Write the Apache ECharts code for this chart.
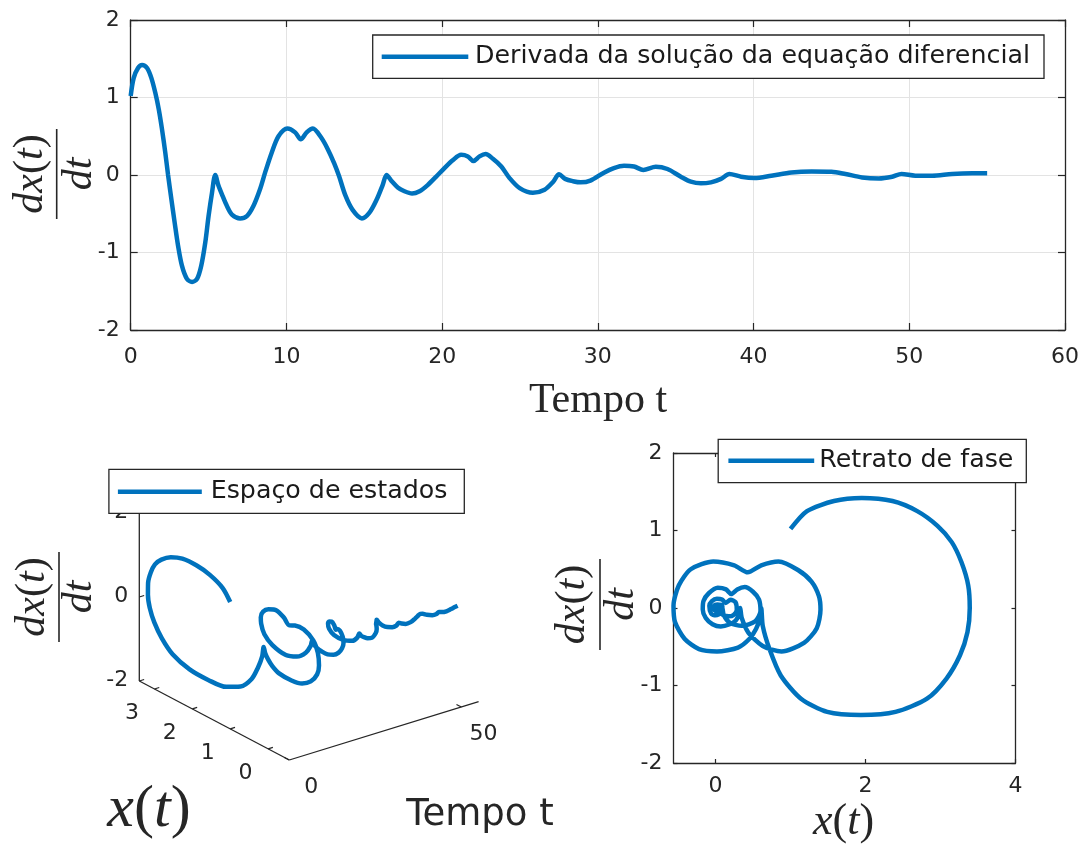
<!DOCTYPE html>
<html><head><meta charset="utf-8">
<script src="https://cdn.jsdelivr.net/npm/echarts@6/dist/echarts.min.js"></script>
<style>html,body{margin:0;padding:0;background:#fff}#c{width:1088px;height:852px}</style>
</head><body><div id="c"></div>
<script>
// ---------- data ----------
const T = [0, 0.19, 0.47, 0.73, 1.05, 1.33, 1.58, 1.8, 2.01, 2.22, 2.4, 2.61, 2.82, 3.04, 3.29, 3.61, 3.94, 4.26, 4.53, 4.79, 5.0, 5.22, 5.43,
  5.64, 5.9, 6.18, 6.5, 7.03, 7.46, 7.88, 8.31, 8.63, 9.06, 9.49, 10.06, 10.56, 10.92, 11.3, 11.7, 12.21, 12.64, 13.07, 13.39, 13.78, 14.25, 14.85, 15.32, 15.79, 16.18, 16.43,
  16.72, 17.15, 17.58, 18.07, 18.55, 19.07, 19.62, 20.15, 20.68, 21.22, 21.65, 22.01, 22.4, 22.79, 23.26, 23.8, 24.33, 24.98, 25.83, 26.58, 27.12, 27.51,
  27.9, 28.4, 28.9, 29.52, 30.39, 31.03, 31.68, 32.32, 32.92, 33.72, 34.47, 35.33, 35.97, 36.62, 37.26, 37.91, 38.45,
  39.2, 40.06, 41.14, 42.43, 43.72, 45.0, 45.9, 46.97, 48.04, 48.9, 49.5, 50.39, 51.46, 52.75, 54.04, 55.0];
const DX = [1.02, 1.25, 1.38, 1.42, 1.38, 1.25, 1.06, 0.85, 0.59, 0.29, 0.0, -0.31, -0.61, -0.91, -1.17, -1.34, -1.38, -1.34, -1.17, -0.87, -0.53, -0.23, 0.0,
  -0.14, -0.27, -0.40, -0.51, -0.56, -0.53, -0.40, -0.18, 0.03, 0.29, 0.50, 0.60, 0.55, 0.46, 0.55, 0.60, 0.49, 0.34, 0.15, -0.02, -0.26, -0.45, -0.56, -0.49, -0.32, -0.13, 0.0,
  -0.07, -0.16, -0.21, -0.24, -0.21, -0.13, -0.02, 0.09, 0.19, 0.26, 0.24, 0.18, 0.24, 0.27, 0.21, 0.11, -0.04, -0.17, -0.23, -0.19, -0.09, 0.01,
  -0.05, -0.08, -0.095, -0.073, 0.03, 0.09, 0.12, 0.11, 0.065, 0.107, 0.077, -0.022, -0.086, -0.108, -0.095, -0.05, 0.013,
  -0.022, -0.039, -0.009, 0.033, 0.046, 0.042, 0.013, -0.031, -0.044, -0.022, 0.013, -0.009, -0.009, 0.013, 0.021, 0.021];
const X = [1.00, 1.22, 1.58, 1.95, 2.36, 2.69, 2.96, 3.15, 3.28, 3.37, 3.39, 3.36, 3.26, 3.08, 2.82, 2.40, 1.94, 1.49, 1.14, 0.87, 0.72, 0.63, 0.61,
  0.59, 0.54, 0.45, 0.30, 0.02, -0.22, -0.41, -0.54, -0.56, -0.49, -0.33, -0.03, 0.25, 0.43, 0.61, 0.84, 1.10, 1.28, 1.38, 1.40, 1.35, 1.18, 0.88, 0.63, 0.44, 0.35, 0.33,
  0.32, 0.27, 0.19, 0.07, -0.04, -0.13, -0.17, -0.16, -0.09, 0.03, 0.14, 0.21, 0.29, 0.39, 0.50, 0.58, 0.60, 0.53, 0.35, 0.19, 0.11, 0.09,
  0.08, 0.045, 0.0, -0.058, -0.082, -0.048, 0.018, 0.087, 0.136, 0.200, 0.265, 0.284, 0.245, 0.178, 0.109, 0.058, 0.045,
  0.037, 0.006, -0.026, -0.019, 0.024, 0.073, 0.092, 0.076, 0.029, -0.004, -0.010, -0.014, -0.030, -0.035, -0.021, -0.006];

const TOP_T_RANGE = [0, 60];
const DX_RANGE = [-2, 2];
const PHASE_X_RANGE = [-0.56, 4];
const PHASE_X_TICKS = [0, 2, 4];
const S3_T_RANGE = [0, 55];
const S3_X_RANGE = [-0.56, 3.40];
const S3_T_TICKS = [0, 50];
const S3_X_TICKS = [0, 1, 2, 3];
const S3_D_TICKS = [-2, 0, 2];

const LEGEND_TOP = 'Derivada da solução da equação diferencial';
const LEGEND_3D = 'Espaço de estados';
const LEGEND_PHASE = 'Retrato de fase';
const XLABEL_TIME = 'Tempo t';

// ---------- styles ----------
const BLUE = '#0072BD';
const INK = '#262626';
const SANS = '"DejaVu Sans", sans-serif';
const SERIF = '"Liberation Serif", serif';
const LW = 4.5;

// 3D view: screen anchors of the box (origin, t-end, x-end, dx-top)
const BOX3 = { o: [289.3, 760], t: [478.6, 701.7], x: [139.3, 681], d: [139.3, 513] };
function proj(t, x, d) {
  const ft = (t - S3_T_RANGE[0]) / (S3_T_RANGE[1] - S3_T_RANGE[0]);
  const fx = (x - S3_X_RANGE[0]) / (S3_X_RANGE[1] - S3_X_RANGE[0]);
  const fd = (d - DX_RANGE[0]) / (DX_RANGE[1] - DX_RANGE[0]);
  const r = [];
  for (let k = 0; k < 2; k++) {
    r.push(BOX3.o[k] + ft * (BOX3.t[k] - BOX3.o[k]) + fx * (BOX3.x[k] - BOX3.o[k]) + fd * (BOX3.d[k] - BOX3.x[k]));
  }
  return r;
}

const chart = echarts.init(document.getElementById('c'), null, { renderer: 'canvas' });

const axLine = { show: true, onZero: false, lineStyle: { color: INK, width: 1.3 } };
const tick = (len, extra) => Object.assign({ show: true, inside: true, length: len, lineStyle: { color: INK, width: 1.2 } }, extra || {});
const lab = (margin, extra) => Object.assign({ show: true, color: INK, fontFamily: SANS, fontSize: 22, margin: margin }, extra || {});

function seg(a, b, color, width) {
  return { type: 'line', xAxisIndex: 4, yAxisIndex: 4, data: [a, b], symbol: 'none', silent: true,
    lineStyle: { color: color, width: width }, animation: false, z: 3 };
}

const series = [];
// top time series
series.push({ type: 'line', xAxisIndex: 0, yAxisIndex: 0, data: T.map((t, i) => [t, DX[i]]),
  symbol: 'none', smooth: 0.3, lineStyle: { color: BLUE, width: LW }, animation: false, z: 5 });
// phase portrait
series.push({ type: 'line', xAxisIndex: 2, yAxisIndex: 2, data: X.map((x, i) => [x, DX[i]]),
  symbol: 'none', smooth: 0.25, lineStyle: { color: BLUE, width: LW }, animation: false, z: 5 });
// 3D axes
const x0 = S3_X_RANGE[0], x1 = S3_X_RANGE[1], t0 = S3_T_RANGE[0], t1 = S3_T_RANGE[1];
series.push(seg(proj(t0, x0, DX_RANGE[0]), proj(t1, x0, DX_RANGE[0]), INK, 1.3));
series.push(seg(proj(t0, x0, DX_RANGE[0]), proj(t0, x1, DX_RANGE[0]), INK, 1.3));
series.push(seg(proj(t0, x1, DX_RANGE[0]), proj(t0, x1, DX_RANGE[1]), INK, 1.3));
S3_X_TICKS.forEach(v => series.push(seg(proj(t0, v, DX_RANGE[0]), proj(t0 + 1.4, v, DX_RANGE[0]), INK, 1.2)));
S3_T_TICKS.forEach(v => series.push(seg(proj(v, x0, DX_RANGE[0]), proj(v, x0 + 0.13, DX_RANGE[0]), INK, 1.2)));
S3_D_TICKS.forEach(v => series.push(seg(proj(t0, x1, v), proj(t0 + 1.4, x1, v), INK, 1.2)));
// 3D curve
series.push({ type: 'line', xAxisIndex: 4, yAxisIndex: 4, data: T.map((t, i) => proj(t, X[i], DX[i])),
  symbol: 'none', smooth: 0.3, lineStyle: { color: BLUE, width: LW }, animation: false, z: 5 });

// ---------- graphic texts / legends ----------
const graphics = [];
function frac(cx, cy, barLen, numOff, denOff) {
  return { type: 'group', x: cx, y: cy, rotation: Math.PI / 2, z: 100, children: [
    { type: 'text', x: 0, y: -numOff, style: { text: '{i|dx}{n|(}{i|t}{n|)}', fontSize: 42, fontFamily: SERIF,
      rich: { i: { fontStyle: 'italic', fontSize: 42, fontFamily: SERIF, fill: INK }, n: { fontSize: 42, fontFamily: SERIF, fill: INK } },
      align: 'center', verticalAlign: 'middle', fill: INK } },
    { type: 'line', shape: { x1: -barLen / 2, y1: 0, x2: barLen / 2, y2: 0 }, style: { stroke: INK, lineWidth: 1.6 } },
    { type: 'text', x: 0, y: denOff, style: { text: 'dt', fontStyle: 'italic', fontSize: 42, fontFamily: SERIF,
      align: 'center', verticalAlign: 'middle', fill: INK } }
  ] };
}
graphics.push(frac(56.7, 174, 90, 26, 23));
graphics.push(frac(59, 597, 90, 26, 21));
graphics.push(frac(600, 604.5, 91, 27, 21.5));

function txt(x, y, text, font, align, extra) {
  return Object.assign({ type: 'text', x: x, y: y, z: 100, style: Object.assign({ text: text, font: font, fill: INK,
    align: align || 'center', verticalAlign: 'middle' }, extra || {}) });
}
graphics.push(txt(598, 401, XLABEL_TIME, '42px ' + SERIF));
graphics.push(txt(480, 815, XLABEL_TIME, '37px ' + SANS));
graphics.push({ type: 'text', x: 149, y: 810, z: 100, style: { text: '{i|x}{n|(}{i|t}{n|)}', fontSize: 60, fontFamily: SERIF,
  rich: { i: { fontStyle: 'italic', fontSize: 60, fontFamily: SERIF, fill: INK }, n: { fontSize: 60, fontFamily: SERIF, fill: INK } },
  align: 'center', verticalAlign: 'middle', fill: INK } });
graphics.push({ type: 'text', x: 843.5, y: 822, z: 100, style: { text: '{i|x}{n|(}{i|t}{n|)}', fontSize: 44, fontFamily: SERIF,
  rich: { i: { fontStyle: 'italic', fontSize: 44, fontFamily: SERIF, fill: INK }, n: { fontSize: 44, fontFamily: SERIF, fill: INK } },
  align: 'center', verticalAlign: 'middle', fill: INK } });

// 3D tick labels
S3_X_TICKS.forEach(v => { const p = proj(t0, v, DX_RANGE[0]); graphics.push(txt(p[0] - 22.5, p[1] + 24, String(v), '22px ' + SANS)); });
S3_T_TICKS.forEach(v => { const p = proj(v, x0, DX_RANGE[0]); graphics.push(txt(p[0] + 22, p[1] + 27, String(v), '22px ' + SANS)); });
S3_D_TICKS.forEach(v => { const p = proj(t0, x1, v); graphics.push(Object.assign(txt(p[0] - 11, p[1] - 1, String(v), '22px ' + SANS, 'right'), { z: 90 })); });

function legend(bx, by, bw, bh, lx1, lx2, ly, tx, label) {
  graphics.push({ type: 'rect', z: 110, shape: { x: bx, y: by, width: bw, height: bh },
    style: { fill: '#fff', stroke: INK, lineWidth: 1.3 } });
  graphics.push({ type: 'line', z: 111, shape: { x1: lx1, y1: ly, x2: lx2, y2: ly }, style: { stroke: BLUE, lineWidth: LW } });
  graphics.push({ type: 'text', z: 111, x: tx, y: ly, style: { text: label, font: '25.3px ' + SANS, fill: '#1a1a1a', align: 'left', verticalAlign: 'middle' } });
}
legend(372.7, 35, 671.3, 43.3, 381.7, 468.3, 56.7, 475, LEGEND_TOP);
legend(108.9, 469.3, 355.4, 44, 117.9, 201.8, 491.7, 210.7, LEGEND_3D);
legend(718.2, 439.3, 308.1, 43.4, 728.4, 814.2, 460.7, 819.3, LEGEND_PHASE);

const option = {
  backgroundColor: '#fff',
  animation: false,
  grid: [
    { left: 130.7, top: 20, width: 934.3, height: 310, containLabel: false, outerBoundsMode: 'none' },
    { left: 673.5, top: 453, width: 342, height: 310, containLabel: false, outerBoundsMode: 'none' },
    { left: 0, top: 0, width: 1088, height: 852, containLabel: false, outerBoundsMode: 'none' }
  ],
  xAxis: [
    { gridIndex: 0, type: 'value', position: 'bottom', min: TOP_T_RANGE[0], max: TOP_T_RANGE[1], interval: 10,
      axisLine: axLine, axisTick: tick(7), axisLabel: lab(16),
      splitLine: { show: true, lineStyle: { color: '#e3e3e3', width: 1 } } },
    { gridIndex: 0, type: 'value', position: 'top', min: TOP_T_RANGE[0], max: TOP_T_RANGE[1], interval: 10,
      axisLine: axLine, axisTick: tick(7), axisLabel: { show: false }, splitLine: { show: false } },
    { gridIndex: 1, type: 'value', position: 'bottom', min: PHASE_X_RANGE[0], max: PHASE_X_RANGE[1],
      axisLine: axLine, axisTick: tick(4, { customValues: PHASE_X_TICKS }), axisLabel: lab(12, { customValues: PHASE_X_TICKS }),
      splitLine: { show: false } },
    { gridIndex: 1, type: 'value', position: 'top', min: PHASE_X_RANGE[0], max: PHASE_X_RANGE[1],
      axisLine: axLine, axisTick: tick(4, { customValues: PHASE_X_TICKS }), axisLabel: { show: false }, splitLine: { show: false } },
    { gridIndex: 2, type: 'value', min: 0, max: 1088, show: false }
  ],
  yAxis: [
    { gridIndex: 0, type: 'value', position: 'left', min: DX_RANGE[0], max: DX_RANGE[1], interval: 1,
      axisLine: axLine, axisTick: tick(7), axisLabel: lab(11),
      splitLine: { show: true, lineStyle: { color: '#e3e3e3', width: 1 } } },
    { gridIndex: 0, type: 'value', position: 'right', min: DX_RANGE[0], max: DX_RANGE[1], interval: 1,
      axisLine: axLine, axisTick: tick(7), axisLabel: { show: false }, splitLine: { show: false } },
    { gridIndex: 1, type: 'value', position: 'left', min: DX_RANGE[0], max: DX_RANGE[1], interval: 1,
      axisLine: axLine, axisTick: tick(4), axisLabel: lab(11), splitLine: { show: false } },
    { gridIndex: 1, type: 'value', position: 'right', min: DX_RANGE[0], max: DX_RANGE[1], interval: 1,
      axisLine: axLine, axisTick: tick(4), axisLabel: { show: false }, splitLine: { show: false } },
    { gridIndex: 2, type: 'value', min: 0, max: 852, inverse: true, show: false }
  ],
  series: series,
  graphic: { elements: graphics }
};
chart.setOption(option);
</script>
</body></html>
